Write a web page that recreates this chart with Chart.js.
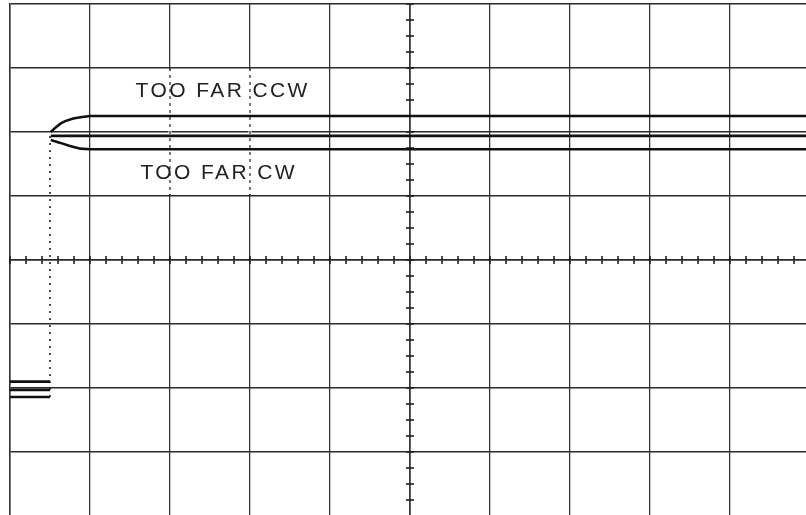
<!DOCTYPE html>
<html>
<head>
<meta charset="utf-8">
<script src="https://cdn.jsdelivr.net/npm/chart.js@4.4.1/dist/chart.umd.min.js"></script>
<style>
  html, body { margin: 0; padding: 0; background: #fff; overflow: hidden; }
  #wrap { position: absolute; left: 0; top: 0; width: 820px; height: 525px; }
</style>
</head>
<body>
<div id="wrap"><canvas id="scope"></canvas></div>
<script>
// traces, in divisions (x: 0..10, y: -4..4)
const ccwX = [0, 0.5, 0.5, 0.51, 0.56, 0.63, 0.69, 0.79, 0.88, 1.0, 10];
const ccwY = [-1.90, -1.90, null, 2.0, 2.06, 2.13, 2.17, 2.21, 2.23, 2.25, 2.25];
const midX = [0, 0.5, 0.5, 0.51, 10];
const midY = [-2.03, -2.03, null, 1.94, 1.94];
const cwX = [0, 0.5, 0.5, 0.51, 0.63, 0.75, 0.88, 1.0, 10];
const cwY = [-2.14, -2.14, null, 1.875, 1.83, 1.78, 1.74, 1.73, 1.73];
const jumpX = [0.5, 0.5];
const jumpY = [-2.14, 2.0];

const labels = ['TOO FAR CCW', 'TOO FAR CW'];
const labelX = [1.57, 1.63];
const labelY = [2.63, 1.36];

// graticule bits
const dashedCols = [2, 3];
const dashedRange = [1, 3];

function pts(xs, ys) {
  return xs.map((x, i) => ({ x: x, y: ys[i] }));
}

const trace = (data) => ({
  data: data,
  borderColor: '#111',
  borderWidth: 2.6,
  pointRadius: 0,
  tension: 0,
  spanGaps: false
});

const graticule = {
  id: 'graticule',
  beforeDatasetsDraw(chart) {
    const ctx = chart.ctx;
    const xs = chart.scales.x, ys = chart.scales.y;
    ctx.save();
    // dotted column pieces
    dashedCols.forEach(c => {
      let px = xs.getPixelForValue(c);
      let y1 = ys.getPixelForValue(dashedRange[1]), y2 = ys.getPixelForValue(dashedRange[0]);
      ctx.strokeStyle = '#fff';
      ctx.lineWidth = 3;
      ctx.beginPath(); ctx.moveTo(px, y1 + 2); ctx.lineTo(px, y2 - 2); ctx.stroke();
      ctx.strokeStyle = '#333';
      ctx.lineWidth = 1.3;
      ctx.setLineDash([3, 4]);
      ctx.beginPath(); ctx.moveTo(px, y1); ctx.lineTo(px, y2); ctx.stroke();
      ctx.setLineDash([]);
    });
    // minor ticks on the centre axes
    ctx.strokeStyle = '#222';
    ctx.lineWidth = 1.6;
    let y0 = ys.getPixelForValue(0);
    for (let v = 0; v <= 10.001; v += 0.2) {
      let px = xs.getPixelForValue(v);
      ctx.beginPath(); ctx.moveTo(px, y0 - 4); ctx.lineTo(px, y0 + 4); ctx.stroke();
    }
    let x0 = xs.getPixelForValue(5);
    for (let v = -4; v <= 4.001; v += 0.25) {
      let py = ys.getPixelForValue(v);
      ctx.beginPath(); ctx.moveTo(x0 - 4, py); ctx.lineTo(x0 + 4, py); ctx.stroke();
    }
    ctx.restore();
  },
  afterDatasetsDraw(chart) {
    const ctx = chart.ctx;
    const xs = chart.scales.x, ys = chart.scales.y;
    ctx.save();
    ctx.fillStyle = '#222';
    ctx.font = '21px "Liberation Sans"';
    ctx.letterSpacing = '2.4px';
    ctx.textBaseline = 'middle';
    ctx.textAlign = 'left';
    labels.forEach((t, i) => {
      ctx.fillText(t, xs.getPixelForValue(labelX[i]), ys.getPixelForValue(labelY[i]));
    });
    ctx.restore();
  }
};

new Chart(document.getElementById('scope'), {
  type: 'line',
  data: {
    datasets: [
      trace(pts(ccwX, ccwY)),
      trace(pts(midX, midY)),
      trace(pts(cwX, cwY)),
      {
        data: pts(jumpX, jumpY),
        borderColor: '#222',
        borderWidth: 1.6,
        borderDash: [2, 5],
        pointRadius: 0
      }
    ]
  },
  options: {
    responsive: true,
    maintainAspectRatio: false,
    animation: false,
    layout: { padding: { left: 10, top: 4, right: 10, bottom: 9 } },
    plugins: { legend: { display: false }, tooltip: { enabled: false } },
    scales: {
      x: {
        type: 'linear',
        min: 0,
        max: 10,
        ticks: { display: false, stepSize: 1 },
        grid: {
          drawTicks: false,
          color: '#3a3a3a',
          lineWidth: (c) => c.tick && c.tick.value === 5 ? 1.8 : 1.3
        },
        border: { display: true, color: '#333', width: 1.5 }
      },
      y: {
        type: 'linear',
        min: -4,
        max: 4,
        ticks: { display: false, stepSize: 1 },
        grid: {
          drawTicks: false,
          color: '#2a2a2a',
          lineWidth: (c) => c.tick && c.tick.value === 0 ? 1.8 : 1.5
        },
        border: { display: true, color: '#333', width: 1.5 }
      }
    }
  },
  plugins: [graticule]
});
</script>
</body>
</html>
